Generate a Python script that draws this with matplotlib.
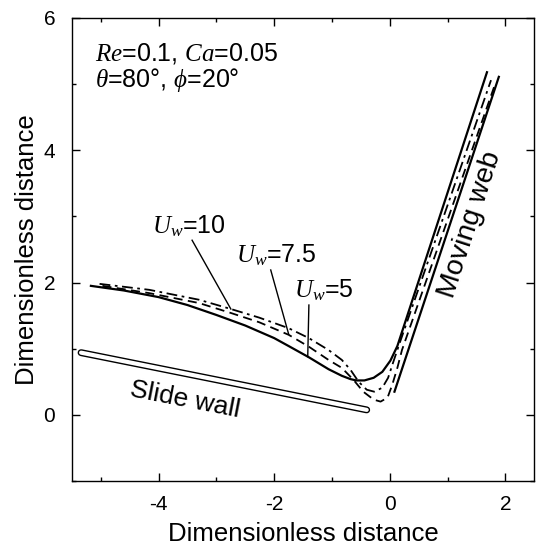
import matplotlib
matplotlib.use("Agg")
import matplotlib.pyplot as plt
from matplotlib.ticker import MultipleLocator

plt.rcParams['font.family'] = ['Liberation Sans', 'DejaVu Sans']
plt.rcParams['mathtext.fontset'] = 'custom'
plt.rcParams['mathtext.rm'] = 'Liberation Sans'
plt.rcParams['mathtext.it'] = 'Liberation Serif:italic'
plt.rcParams['mathtext.sf'] = 'Liberation Sans'
plt.rcParams['axes.unicode_minus'] = False

# free surface profiles
x_uw5 = [-5.17, -4.60, -4.00, -3.50, -3.00, -2.50, -2.00, -1.75, -1.40, -1.06,
         -0.83, -0.68, -0.58, -0.44, -0.28, -0.13, 0.01, 0.13, 1.68]
y_uw5 = [1.95, 1.88, 1.78, 1.66, 1.51, 1.35, 1.16, 1.04, 0.87, 0.69,
         0.59, 0.54, 0.52, 0.52, 0.56, 0.65, 0.82, 1.04, 5.18]

x_uw75 = [-4.97, -4.16, -3.30, -2.75, -2.26, -1.75, -1.40, -1.06, -0.83, -0.63,
          -0.46, -0.28, -0.16, -0.04, 0.04, 0.13, 0.21, 1.82]
y_uw75 = [1.95, 1.84, 1.69, 1.54, 1.40, 1.21, 1.03, 0.83, 0.71, 0.53,
          0.35, 0.23, 0.20, 0.26, 0.45, 0.71, 0.98, 5.00]

x_uw10 = [-5.02, -4.16, -3.30, -2.75, -2.26, -1.75, -1.40, -1.06, -0.83, -0.68,
          -0.54, -0.40, -0.27, -0.13, -0.03, 0.06, 0.16, 1.75]
y_uw10 = [1.98, 1.89, 1.74, 1.60, 1.47, 1.31, 1.16, 0.98, 0.83, 0.68,
          0.50, 0.38, 0.35, 0.41, 0.56, 0.80, 1.06, 5.06]

# walls
x_web = [0.08, 1.885]
y_web = [0.35, 5.11]
x_slide = [-5.34, -0.40]
y_slide = [0.94, 0.075]

# labels and leader lines (text xy, leader start, leader end)
uw_labels = [r'$U_w$=10', r'$U_w$=7.5', r'$U_w$=5']
uw_text_xy = [(-4.12, 2.75), (-2.66, 2.30), (-1.66, 1.77)]
uw_lead_from = [(-3.42, 2.64), (-2.06, 2.19), (-1.40, 1.66)]
uw_lead_to = [(-2.75, 1.60), (-1.75, 1.22), (-1.42, 0.88)]

fig = plt.figure(figsize=(5.36, 5.5), dpi=100)
ax = fig.add_axes([0.134, 0.1255, 0.863, 0.8418])

ax.plot(x_uw5, y_uw5, color='black', lw=1.6)
ax.plot(x_uw75, y_uw75, color='black', lw=1.3, linestyle=(0, (5, 3)))
ax.plot(x_uw10, y_uw10, color='black', lw=1.3, linestyle=(0, (6, 2.5, 1.5, 2.5)))
ax.plot(x_web, y_web, color='black', lw=1.6)

ax.plot(x_slide, y_slide, color='black', lw=5, solid_capstyle='round')
ax.plot(x_slide, y_slide, color='white', lw=3, solid_capstyle='round')

for lab, txy, p0, p1 in zip(uw_labels, uw_text_xy, uw_lead_from, uw_lead_to):
    ax.text(txy[0], txy[1], lab, fontsize=18, ha='left', va='baseline')
    ax.plot([p0[0], p1[0]], [p0[1], p1[1]], color='black', lw=1.0)

ax.text(-5.1, 5.35, r'$Re$=0.1, $Ca$=0.05', fontsize=18, va='baseline')
ax.text(-5.1, 4.95, r'$\theta$=80°, $\phi$=20°', fontsize=18, va='baseline')
ax.text(-3.55, 0.23, 'Slide wall', fontsize=19, rotation=-11,
        ha='center', va='center', rotation_mode='anchor')
ax.text(1.39, 2.87, 'Moving web', fontsize=20.5, rotation=72,
        ha='center', va='center', rotation_mode='anchor')

ax.set_xlim(-5.5, 2.5)
ax.set_ylim(-1, 6)
ax.xaxis.set_major_locator(MultipleLocator(2))
ax.xaxis.set_minor_locator(MultipleLocator(1))
ax.yaxis.set_major_locator(MultipleLocator(2))
ax.yaxis.set_minor_locator(MultipleLocator(1))
ax.tick_params(which='both', direction='in', top=True, right=True, width=1.0)
ax.tick_params(which='major', length=6, labelsize=15, pad=10)
ax.tick_params(which='minor', length=3)
ax.tick_params(axis='y', which='major', pad=12)
for s in ax.spines.values():
    s.set_linewidth(1.0)

ax.set_xlabel('Dimensionless distance', fontsize=18.5, labelpad=6)
ax.set_ylabel('Dimensionless distance', fontsize=18.5, labelpad=3)

fig.savefig('out.png', dpi=100)
